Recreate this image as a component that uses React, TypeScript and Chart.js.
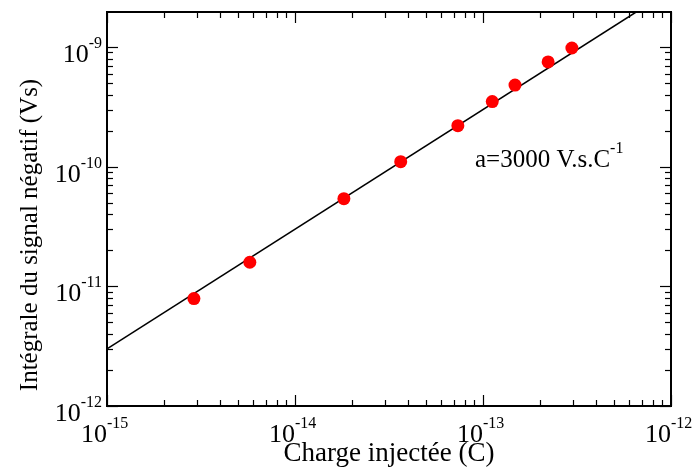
import React, { useEffect, useRef } from 'react';
import { Chart, registerables } from 'chart.js';

Chart.register(...registerables);

// ---- data ----
const chargeC = [2.9e-15, 5.75e-15, 1.82e-14, 3.65e-14, 7.35e-14, 1.12e-13, 1.48e-13, 2.22e-13, 2.97e-13];
const integralVs = [7.9e-12, 1.59e-11, 5.4e-11, 1.1e-10, 2.2e-10, 3.5e-10, 4.8e-10, 7.5e-10, 9.8e-10];
const fitX = [1e-15, 1e-12];
const fitY = [3e-12, 3e-9];
const xDecades = [-15, -14, -13, -12];
const yDecades = [-12, -11, -10, -9];
const xMin = 1e-15;
const xMax = 1e-12;
const yMin = 1e-12;
const yMax = 1.96e-9;
const xTitle = 'Charge injectée (C)';
const yTitle = 'Intégrale du signal négatif (Vs)';
const annotationText = 'a=3000 V.s.C';
const annotationExp = '-1';
const annotationAt = { x: 9.06e-14, y: 1.0e-10 };

const FONT = '"Liberation Serif", "Times New Roman", serif';
const BASE_SIZE = 26;
const EXP_SIZE = 16;

function minorValues(decades: number[], max: number) {
  const out: number[] = [];
  for (const d of decades) {
    for (let m = 2; m <= 9; m++) {
      const v = m * Math.pow(10, d);
      if (v < max) out.push(v);
    }
  }
  return out;
}

const framePlugin = {
  id: 'framePlugin',
  afterDraw(chart: any) {
    const { ctx, chartArea: a, scales } = chart;
    const xs = scales.x;
    const ys = scales.y;
    ctx.save();
    ctx.strokeStyle = '#000';
    ctx.fillStyle = '#000';

    // ticks
    ctx.lineWidth = 1.2;
    const MAJ = 11;
    const MIN = 6;
    const line = (x1: number, y1: number, x2: number, y2: number) => {
      ctx.beginPath();
      ctx.moveTo(x1, y1);
      ctx.lineTo(x2, y2);
      ctx.stroke();
    };
    for (const d of xDecades) {
      const px = Math.round(xs.getPixelForValue(Math.pow(10, d))) + 0.5;
      line(px, a.bottom, px, a.bottom - MAJ);
      line(px, a.top, px, a.top + MAJ);
    }
    for (const v of minorValues(xDecades, xMax)) {
      const px = Math.round(xs.getPixelForValue(v)) + 0.5;
      line(px, a.bottom, px, a.bottom - MIN);
      line(px, a.top, px, a.top + MIN);
    }
    for (const d of yDecades) {
      const py = Math.round(ys.getPixelForValue(Math.pow(10, d))) + 0.5;
      line(a.left, py, a.left + MAJ, py);
      line(a.right, py, a.right - MAJ, py);
    }
    for (const v of minorValues(yDecades, yMax)) {
      const py = Math.round(ys.getPixelForValue(v)) + 0.5;
      line(a.left, py, a.left + MIN, py);
      line(a.right, py, a.right - MIN, py);
    }

    // frame
    ctx.lineWidth = 2;
    ctx.strokeRect(a.left, a.top, a.right - a.left, a.bottom - a.top);

    // tick labels
    ctx.textBaseline = 'alphabetic';
    const baseFont = `${BASE_SIZE}px ${FONT}`;
    const expFont = `${EXP_SIZE}px ${FONT}`;
    for (const d of xDecades) {
      const px = xs.getPixelForValue(Math.pow(10, d));
      const by = a.bottom + 36;
      ctx.font = baseFont;
      ctx.textAlign = 'right';
      ctx.fillText('10', px, by);
      ctx.font = expFont;
      ctx.textAlign = 'left';
      ctx.fillText(String(d), px, by - 14);
    }
    for (const d of yDecades) {
      const py = ys.getPixelForValue(Math.pow(10, d));
      const by = py + 15;
      ctx.font = expFont;
      const ew = ctx.measureText(String(d)).width;
      const right = a.left - 5;
      ctx.textAlign = 'right';
      ctx.fillText(String(d), right, by - 14);
      ctx.font = baseFont;
      ctx.fillText('10', right - ew, by);
    }

    // annotation
    const ax = xs.getPixelForValue(annotationAt.x);
    const ay = ys.getPixelForValue(annotationAt.y);
    ctx.font = `25px ${FONT}`;
    ctx.textAlign = 'left';
    ctx.fillText(annotationText, ax, ay);
    const aw = ctx.measureText(annotationText).width;
    ctx.font = expFont;
    ctx.fillText(annotationExp, ax + aw, ay - 14);

    // axis titles
    ctx.font = `27px ${FONT}`;
    ctx.textAlign = 'center';
    ctx.fillText(xTitle, (a.left + a.right) / 2, 461);
    ctx.save();
    ctx.translate(37, 235);
    ctx.rotate(-Math.PI / 2);
    ctx.font = `25px ${FONT}`;
    ctx.textAlign = 'center';
    ctx.fillText(yTitle, 0, 0);
    ctx.restore();

    ctx.restore();
  },
};

export default function App() {
  const ref = useRef<HTMLCanvasElement | null>(null);
  useEffect(() => {
    document.body.style.margin = '0';
    const canvas = ref.current;
    if (!canvas) return;
    const chart = new Chart(canvas, {
      type: 'scatter',
      data: {
        datasets: [
          {
            label: 'mesures',
            data: chargeC.map((x, i) => ({ x, y: integralVs[i] })),
            backgroundColor: '#ff0000',
            borderColor: '#ff0000',
            pointRadius: 6.5,
            pointBorderWidth: 0,
            order: 0,
          },
          {
            label: 'ajustement',
            type: 'line',
            data: fitX.map((x, i) => ({ x, y: fitY[i] })),
            borderColor: '#000000',
            borderWidth: 1.6,
            pointRadius: 0,
            fill: false,
            order: 1,
          } as any,
        ],
      },
      options: {
        animation: false,
        responsive: false,
        devicePixelRatio: 1,
        layout: { padding: { left: 107, top: 12, right: 28, bottom: 68 } },
        plugins: { legend: { display: false }, tooltip: { enabled: false } },
        scales: {
          x: { type: 'logarithmic', min: xMin, max: xMax, display: false },
          y: { type: 'logarithmic', min: yMin, max: yMax, display: false },
        },
      },
      plugins: [framePlugin],
    });
    return () => chart.destroy();
  }, []);
  return (
    <div style={{ width: 699, height: 474, background: '#fff' }}>
      <canvas ref={ref} width={699} height={474} />
    </div>
  );
}
